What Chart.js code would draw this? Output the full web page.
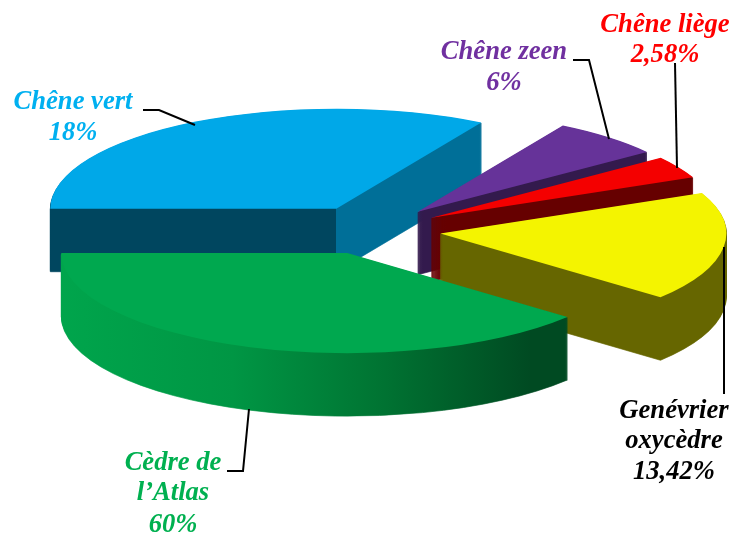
<!DOCTYPE html>
<html><head><meta charset="utf-8">
<style>html,body{margin:0;padding:0;background:#fff}#w{width:742px;height:539px;position:relative}</style>
<script src="https://cdn.jsdelivr.net/npm/chart.js@4"></script>
</head><body><div id="w"><canvas id="c" width="742" height="539"></canvas></div>
<script>
// Species in drawing order, clockwise from the left edge of the pie
const categories = ['Chêne vert', 'Chêne zeen', 'Chêne liège', 'Genévrier oxycèdre', 'Cèdre de l’Atlas'];
// Printed percentages
const printedShares = ['18%', '6%', '2,58%', '13,42%', '60%'];
// Angular share of each slice as it is drawn in the picture (% of the circle)
const drawnShares = [33.47, 6.33, 3.58, 17.64, 38.98];

const topColors = ['#00a8e8', '#663399', '#f40000', '#f4f400', '#00a84f'];
const textColors = ['#00b0f0', '#7030a0', '#ff0000', '#000000', '#00b050'];
const SQUASH = 0.35, DEPTH = 63, EXPLODE = 70, RADIUS = 286;
const wallStops = [
  [[0, '#00465f'], [0.4999, '#00465f'], [0.5, '#006f98'], [1, '#006f98']],
  [[0, '#331a4d'], [1, '#331a4d']],
  [[0, '#660000'], [1, '#660000']],
  [[0, '#666600'], [1, '#666600']],
  [[0, '#00a54c'], [0.3, '#009644'], [0.55, '#007533'], [0.72, '#005a28'], [0.82, '#004a22'], [1, '#004a22']]
];

function wallFill(ctx, i, x0) {
  const lg = ctx.createLinearGradient(x0 - RADIUS, 0, x0 + RADIUS, 0);
  wallStops[i].forEach(s => lg.addColorStop(s[0], s[1]));
  return lg;
}

const pie3d = {
  id: 'pie3d',
  beforeDatasetDraw(chart, args) {
    const ctx = chart.ctx, arcs = args.meta.data;
    arcs.forEach((arc, i) => {
      const mid = (arc.startAngle + arc.endAngle) / 2;
      const place = z => {
        ctx.translate(arc.x + Math.cos(mid) * EXPLODE, arc.y + z + Math.sin(mid) * EXPLODE * SQUASH);
        ctx.scale(1, SQUASH);
        ctx.translate(-arc.x, -arc.y);
      };
      const ghost = Object.create(arc);
      const fill = wallFill(ctx, i, arc.x);
      ghost.options = Object.assign({}, arc.options, { offset: 0, borderWidth: 1, borderColor: fill, backgroundColor: fill });
      for (let z = DEPTH; z > 0; z--) {
        ctx.save(); place(z); ghost.draw(ctx); ctx.restore();
      }
      ghost.options = Object.assign({}, ghost.options, { borderWidth: 0, backgroundColor: topColors[i] });
      ctx.save(); place(0); ghost.draw(ctx); ctx.restore();
    });
    return false;
  },
  afterDraw(chart) {
    const ctx = chart.ctx;
    ctx.save();
    ctx.strokeStyle = '#000'; ctx.lineWidth = 2; ctx.lineJoin = 'miter';
    [[[143, 110], [159, 110], [195, 125]],
     [[573, 60], [589, 60], [609, 139]],
     [[675, 63], [677, 168]],
     [[724, 247], [724, 394]],
     [[249, 409], [243, 471], [227, 471]]].forEach(pts => {
      ctx.beginPath();
      pts.forEach((p, k) => k ? ctx.lineTo(p[0], p[1]) : ctx.moveTo(p[0], p[1]));
      ctx.stroke();
    });
    ctx.font = 'italic bold 26.6px "Liberation Serif"';
    ctx.textAlign = 'center'; ctx.textBaseline = 'alphabetic';
    const lines = [
      [73, [[categories[0], 109], [printedShares[0], 140]]],
      [504, [[categories[1], 59], [printedShares[1], 90]]],
      [665, [[categories[2], 32], [printedShares[2], 62]]],
      [674, [['Genévrier', 418], ['oxycèdre', 448], [printedShares[3], 479]]],
      [173, [['Cèdre de', 470], ['l’Atlas', 500], [printedShares[4], 532]]]
    ];
    lines.forEach((l, i) => {
      ctx.fillStyle = textColors[i];
      l[1].forEach(t => ctx.fillText(t[0], l[0], t[1]));
    });
    ctx.restore();
  }
};

new Chart(document.getElementById('c'), {
  type: 'pie',
  data: { labels: categories, datasets: [{ data: drawnShares, backgroundColor: topColors, borderWidth: 0 }] },
  options: {
    responsive: false, animation: false, rotation: -90, radius: RADIUS,
    layout: { padding: { top: 0, left: 2, right: 2, bottom: 79 } },
    plugins: { legend: { display: false }, tooltip: { enabled: false } }
  },
  plugins: [pie3d]
});
</script></body></html>
